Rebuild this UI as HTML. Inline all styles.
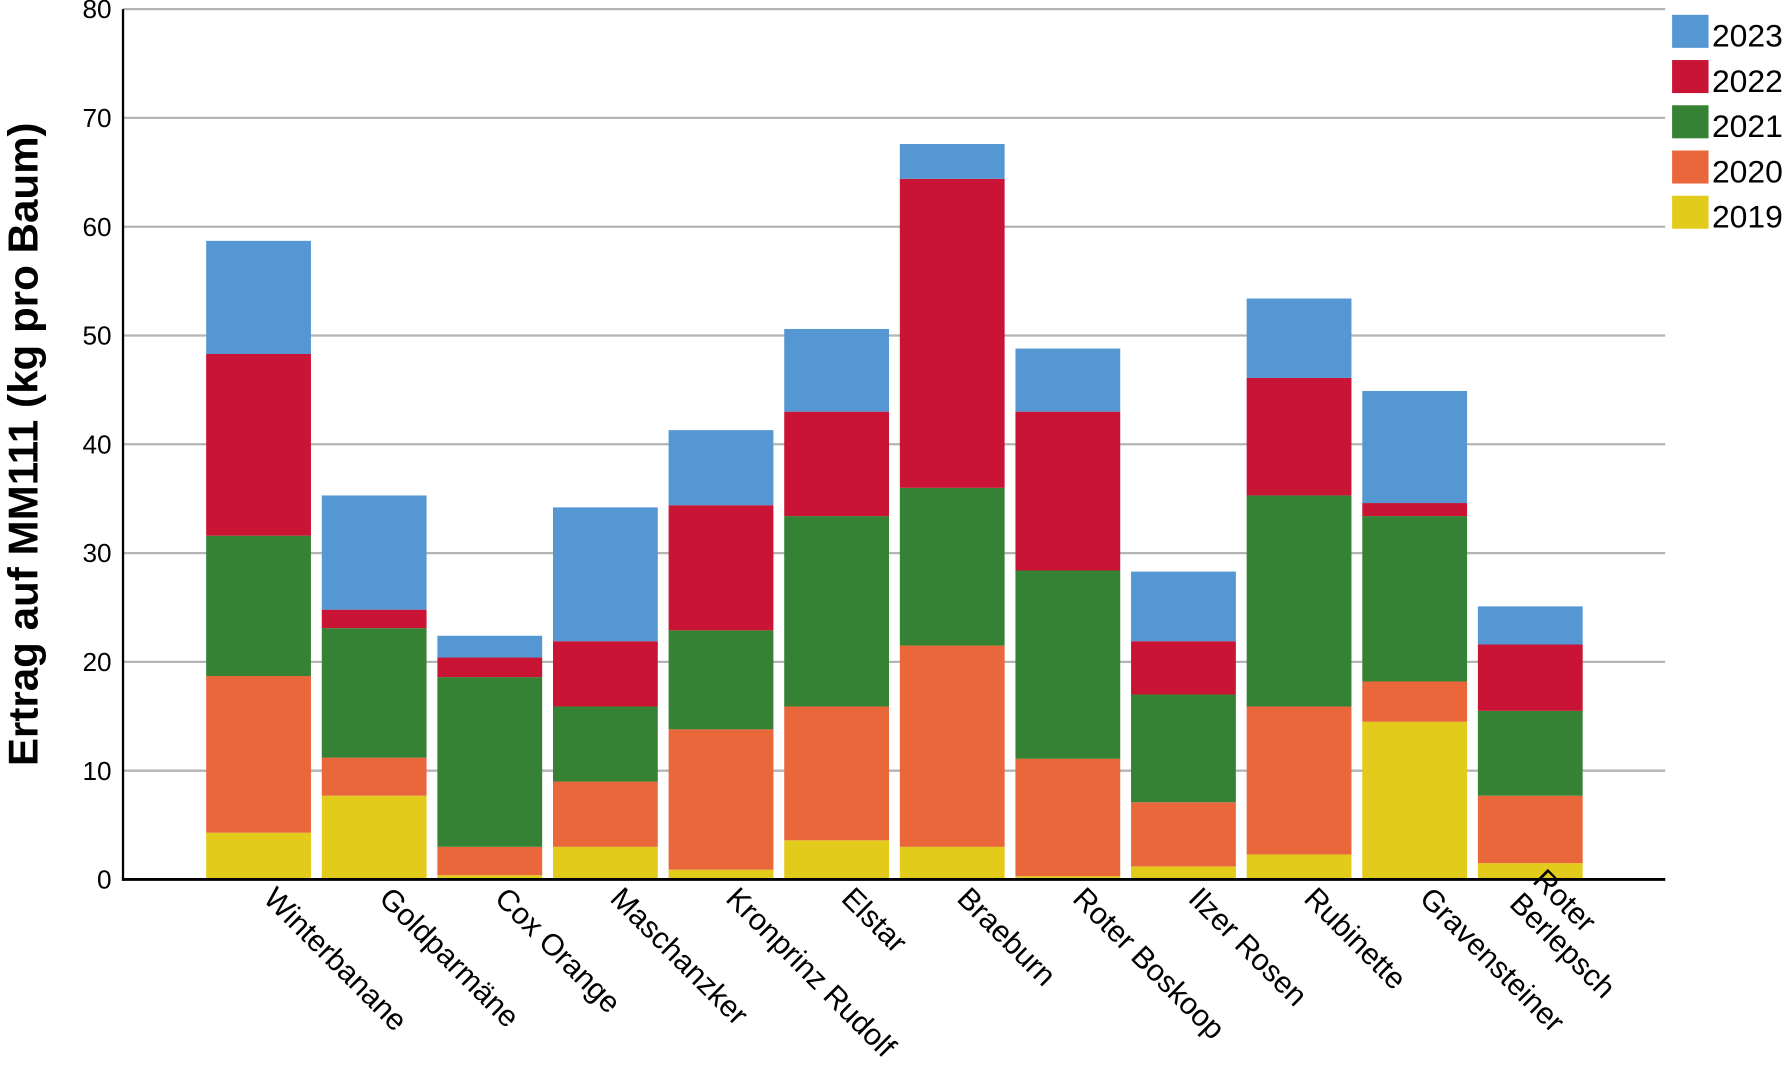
<!DOCTYPE html>
<html><head><meta charset="utf-8"><style>
html,body{margin:0;padding:0;background:#fff;}
svg{display:block;font-family:"Liberation Sans",Arial,sans-serif;}
</style></head><body>
<svg id="chart" width="1786" height="1072" viewBox="0 0 1568 941" preserveAspectRatio="none" xmlns="http://www.w3.org/2000/svg"></svg>
<script>
const categories = ["Winterbanane","Goldparmäne","Cox Orange","Maschanzker","Kronprinz Rudolf","Elstar","Braeburn","Roter Boskoop","Ilzer Rosen","Rubinette","Gravensteiner","Roter\nBerlepsch"];
const seriesNames = ["2019","2020","2021","2022","2023"];
const s2019 = [4.3,7.7,0.4,3.0,0.9,3.6,3.0,0.3,1.2,2.3,14.5,1.5];
const s2020 = [14.4,3.5,2.6,6.0,12.9,12.3,18.5,10.8,5.9,13.6,3.7,6.2];
const s2021 = [12.9,11.9,15.6,6.9,9.1,17.5,14.5,17.3,9.9,19.4,15.2,7.8];
const s2022 = [16.7,1.7,1.8,6.0,11.5,9.6,28.4,14.6,4.9,10.8,1.2,6.1];
const s2023 = [10.4,10.5,2.0,12.3,6.9,7.6,3.2,5.8,6.4,7.3,10.3,3.5];
const yTicks = [0,10,20,30,40,50,60,70,80];

const series = [s2019,s2020,s2021,s2022,s2023];
const colors = ["#e3cb1b","#e9673b","#358234","#c91435","#5597d3"];
const NS = "http://www.w3.org/2000/svg";
const svg = document.getElementById("chart");
const X0 = 108, X1 = 1462, Y0 = 772, Y80 = 8;
const yScale = v => Y0 - (Y0 - Y80) * v / 80;
const band = 101.5, bw = 92, firstC = 227;
const xCenter = i => firstC + i * band;
function el(tag, attrs){const e=document.createElementNS(NS,tag);for(const k in attrs)e.setAttribute(k,attrs[k]);svg.appendChild(e);return e;}

yTicks.forEach(t=>{
  if(t>0){const g=el("line",{x1:X0,x2:X1,y1:yScale(t),y2:yScale(t),stroke:"#b4b4b4","stroke-width":2});
  
  }
  const lb=el("text",{x:98,y:yScale(t)+8,"text-anchor":"end","font-size":23,fill:"#000"});
  lb.textContent=t;
  
  
});

categories.forEach((c,i)=>{
  let cum=0;
  series.forEach((s,k)=>{
    const v=s[i];
    const r=el("rect",{x:xCenter(i)-bw/2,y:yScale(cum+v),width:bw,height:yScale(cum)-yScale(cum+v),fill:colors[k]});
    
    
    cum+=v;
  });
  const lines=c.split("\n");
  const tx=xCenter(i)+3, ty=790;
  const t=el("text",{transform:`translate(${tx},${ty}) rotate(45)`,"font-size":26.5,fill:"#000"});
  lines.forEach((ln,j)=>{const sp=document.createElementNS(NS,"tspan");sp.setAttribute("x",0);sp.setAttribute("dy",j?29:0);sp.textContent=ln;t.appendChild(sp);});
  if(lines.length>1){t.setAttribute("transform",`translate(${tx-2},${ty-16}) rotate(45)`);}
  
  
});

const ax=el("line",{x1:X0,x2:X0,y1:Y80,y2:Y0+1,stroke:"#000","stroke-width":2});


const bx=el("line",{x1:X0-1,x2:X1,y1:Y0,y2:Y0,stroke:"#000","stroke-width":2.5});



const yt=el("text",{transform:"translate(33,390) rotate(-90)","text-anchor":"middle","font-size":37,"font-weight":"bold",fill:"#000"});
yt.textContent="Ertrag auf MM111 (kg pro Baum)";



for(let k=4;k>=0;k--){
  const row=4-k, y=13+row*39.7;
  const sw=el("rect",{x:1468,y:y,width:32,height:29,fill:colors[k]});
  
  
  const lt=el("text",{x:1503,y:y+28,"font-size":28,fill:"#000"});
  lt.textContent=seriesNames[k];
  
  
}
</script>
</body></html>
